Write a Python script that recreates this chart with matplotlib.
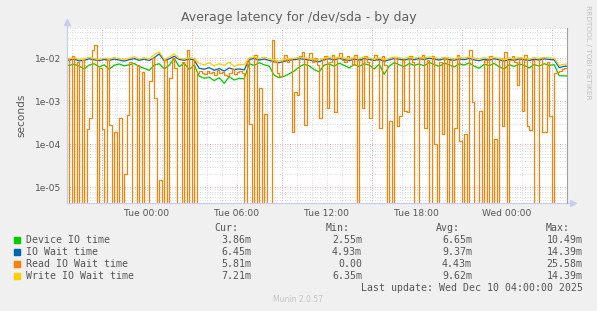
import numpy as np
import matplotlib
matplotlib.use("Agg")
import matplotlib.pyplot as plt
from matplotlib.patches import Rectangle

# time in hours relative to Tue 00:00, graph covers Mon 18:40 -> Wed 04:00
t_start = -16.0 / 3
t_end = 28.0

# Read IO wait time in ms, one value every 10 min (0 = nothing read)
read_ms = [9.5, 0, 11, 0, 8, 0, 9, 0, 0.23, 0.4,
           15, 20, 0, 6, 0.23, 0, 9, 0.28, 0, 0.19,
           0, 0.4, 0, 0.02, 0.47, 8, 0, 0, 7, 0,
           4.7, 0, 0, 3, 10, 1.2, 0, 0.015, 0, 9,
           0, 3.5, 10, 6, 0, 0, 8, 0, 15, 0,
           9, 0, 4.5, 5.0, 4.6, 4.2, 5.0, 4.4, 4.8, 4.0,
           5.2, 4.5, 4.7, 4.1, 3.8, 4.6, 5.5, 4.3, 4.8, 5.0,
           4.4, 0, 9, 0.3, 0, 12, 0, 2, 0, 0.5,
           0, 0, 25.58, 8, 4.5, 3.8, 9, 12, 8, 10,
           0.19, 1.6, 1.4, 11, 14, 0.28, 9, 13, 8, 10,
           7, 0.4, 9, 11, 0.7, 8, 12, 0.55, 10, 13,
           9, 8, 11, 10, 7, 12, 0, 9, 0.7, 11,
           8, 0.4, 10, 12, 9, 0.24, 11, 7, 0, 0.35,
           0, 10, 0.26, 0.45, 9, 0.6, 0.55, 11, 8, 0,
           0, 10, 12, 0.24, 9, 0, 11, 0.1, 0, 8,
           0.17, 10, 0, 9, 0, 0.24, 12, 0.12, 0, 0.17,
           0, 15, 0.95, 0, 0, 0.6, 0, 9, 0, 11,
           0, 0.13, 0, 10, 0.26, 14, 0, 9, 11, 8,
           2.4, 10, 0.6, 12, 0.26, 0.22, 9, 0, 0, 10,
           0.19, 0.19, 8, 0.45, 0, 4.5, 4.7, 5.0, 5.5, 5.81]

# the other three in ms, one value every 20 min
device_ms = [6.8, 7.2, 6.5, 5.6, 6.9, 7.4, 6.2, 7.0, 5.5, 6.8,
             7.3, 6.6, 7.0, 7.5, 6.4, 5.8, 5.2, 6.9, 7.4, 5.6,
             6.8, 9.8, 6.3, 7.6, 5.4, 6.9, 3.8, 3.4, 3.6, 3.0,
             3.5, 2.6, 3.7, 3.1, 3.4, 3.3, 7.4, 6.8, 7.8, 7.0,
             6.5, 4.0, 3.5, 3.8, 4.3, 5.0, 6.2, 7.2, 6.6, 5.4,
             4.8, 6.9, 7.3, 6.5, 7.6, 6.8, 5.9, 7.1, 6.4, 7.4,
             6.9, 5.6, 7.2, 4.2, 6.5, 7.8, 7.0, 6.3, 7.5, 6.8,
             7.3, 6.6, 7.9, 7.1, 6.4, 7.6, 7.0, 6.2, 7.4, 6.9,
             7.7, 6.5, 5.8, 7.2, 6.7, 7.5, 6.3, 5.6, 7.0, 6.4,
             7.3, 6.8, 5.9, 7.1, 6.5, 7.4, 6.8, 7.0, 3.9, 3.86]
iowait_ms = [9.0, 9.4, 8.6, 8.9, 9.6, 9.1, 8.7, 9.3, 8.8, 9.5,
             9.0, 8.5, 9.2, 9.7, 8.9, 9.4, 8.8, 10.2, 12.5, 8.6,
             9.6, 11.0, 9.3, 8.9, 9.5, 9.0, 5.8, 5.5, 6.0, 5.2,
             5.7, 5.0, 5.9, 5.4, 5.6, 5.3, 9.3, 9.8, 9.0, 9.5,
             8.8, 8.2, 7.8, 8.4, 8.9, 9.2, 9.6, 9.4, 9.0, 8.6,
             8.2, 9.3, 9.6, 9.1, 9.8, 9.2, 8.7, 9.5, 9.0, 9.7,
             9.3, 8.8, 9.4, 8.4, 9.1, 9.8, 9.4, 9.0, 9.6, 9.2,
             9.7, 9.3, 9.9, 9.5, 9.0, 9.6, 9.3, 8.9, 9.5, 9.2,
             9.8, 9.1, 8.7, 9.4, 9.0, 9.6, 9.1, 8.5, 9.3, 8.9,
             9.5, 9.2, 8.8, 9.4, 9.0, 9.6, 9.3, 9.1, 6.0, 6.45]
write_ms = [9.8, 10.1, 9.4, 9.6, 10.4, 9.9, 9.2, 10.0, 9.6, 10.3,
            9.7, 9.3, 9.9, 10.8, 9.6, 10.2, 9.5, 12.0, 14.0, 9.4,
            10.5, 12.5, 9.8, 9.6, 10.3, 9.9, 7.5, 7.0, 7.8, 6.6,
            7.4, 6.8, 8.0, 6.4, 7.2, 7.0, 10.1, 10.6, 9.8, 10.4,
            9.6, 9.0, 8.6, 9.2, 9.6, 9.9, 10.4, 10.2, 9.8, 9.4,
            9.1, 10.0, 10.5, 9.9, 10.6, 10.0, 9.5, 10.3, 9.8, 10.5,
            10.1, 9.6, 10.2, 9.3, 9.9, 10.6, 10.2, 9.8, 10.4, 10.0,
            10.5, 10.1, 10.7, 10.3, 9.8, 10.4, 10.1, 9.7, 10.3, 10.0,
            10.6, 9.9, 9.5, 10.2, 9.8, 10.4, 9.9, 9.3, 10.1, 9.7,
            10.3, 10.0, 9.6, 10.2, 9.8, 10.4, 10.1, 9.9, 6.8, 7.21]

x_tick_pos = [0, 6, 12, 18, 24]
x_tick_labels = ["Tue 00:00", "Tue 06:00", "Tue 12:00", "Tue 18:00", "Wed 00:00"]
y_tick_pos = [1e-5, 1e-4, 1e-3, 1e-2]
y_tick_labels = ["1e-05", "1e-04", "1e-03", "1e-02"]

legend_names = ["Device IO time", "IO Wait time", "Read IO Wait time", "Write IO Wait time"]
legend_colors = ["#00CC00", "#0066B3", "#FF8000", "#FFCC00"]
cur_vals = ["3.86m", "6.45m", "5.81m", "7.21m"]
min_vals = ["2.55m", "4.93m", "0.00", "6.35m"]
avg_vals = ["6.65m", "9.37m", "4.43m", "9.62m"]
max_vals = ["10.49m", "14.39m", "25.58m", "14.39m"]

W, H = 597, 311
TXT = "#555555"
MONO = "DejaVu Sans Mono"


def fx(px):
    return px / W


def fy(py):
    return 1 - py / H


def slot_times(n):
    return t_start + np.arange(n) * (t_end - t_start) / n


def step_series(vals):
    # one sample per slot, drawn as steps up to the end of the graph
    v = np.array(vals) * 1e-3
    t = slot_times(len(v))
    v = np.where(v > 0, v, 1e-9)  # zero goes below the log axis
    return np.append(t, t_end), np.append(v, v[-1])


def line_series(vals):
    v = np.array(vals) * 1e-3
    t = slot_times(len(v)) + 0.5 * (t_end - t_start) / len(v)
    t = np.concatenate([[t_start], t, [t_end]])
    v = np.concatenate([[v[0]], v, [v[-1]]])
    return t, v


fig = plt.figure(figsize=(W / 100, H / 100), dpi=100, facecolor="#F0F0F0")
ax = fig.add_axes([fx(66.7), fy(203.3), (566.7 - 66.7) / W, (203.3 - 27.5) / H])
ax.set_facecolor("white")
ax.set_yscale("log")
ax.set_xlim(t_start, t_end)
ax.set_ylim(4.27e-6, 0.0512)

# grid like rrdtool: gray dotted minor, red dotted major
for h in np.arange(-5, 28):
    major = (h - 3) % 6 == 0
    ax.axvline(h, color="#e09090" if major else "#cfcfcf", lw=0.6,
               ls=(0, (1, 2)), zorder=0)
for d in range(-6, -1):
    ax.axhline(10.0 ** d, color="#e09090", lw=0.6, ls=(0, (1, 2)), zorder=0)
    for m in range(2, 10):
        ax.axhline(m * 10.0 ** d, color="#cfcfcf", lw=0.6, ls=(0, (1, 2)), zorder=0)

x, y = line_series(device_ms)
ax.plot(x, y, color=legend_colors[0], lw=0.9)
x, y = line_series(iowait_ms)
ax.plot(x, y, color=legend_colors[1], lw=0.9)
x, y = step_series(read_ms)
ax.plot(x, y, drawstyle="steps-post", color=legend_colors[2], lw=0.85)
x, y = line_series(write_ms)
ax.plot(x, y, color=legend_colors[3], lw=0.9)

ax.set_xticks(x_tick_pos, x_tick_labels)
ax.set_yticks(y_tick_pos, y_tick_labels)
ax.minorticks_off()
ax.tick_params(length=0, labelsize=6.6, labelcolor=TXT, pad=4)

for s in ["top", "left", "bottom"]:
    ax.spines[s].set_visible(False)
ax.spines["right"].set_color("#a0a0a0")
ax.spines["right"].set_linewidth(0.8)
# axis lines with little arrows
ax.plot([0, 0], [0, 1.03], transform=ax.transAxes, color="#c8ccf0", lw=0.9, clip_on=False)
ax.plot([0, 1.012], [0, 0], transform=ax.transAxes, color="#c8ccf0", lw=0.9, clip_on=False)
ax.plot([0], [1.03], transform=ax.transAxes, marker="^", ms=4, color="#c8ccf0", clip_on=False)
ax.plot([1.012], [0], transform=ax.transAxes, marker=">", ms=4, color="#c8ccf0", clip_on=False)

ax.set_ylabel("seconds", fontsize=7.6, color=TXT, labelpad=6)

fig.text(0.5, fy(18), "Average latency for /dev/sda - by day", ha="center",
         va="center", fontsize=9.0, color="#606060")
fig.text(fx(588), fy(5), "RRDTOOL / TOBI OETIKER", rotation=270, ha="center",
         va="top", fontsize=5.3, color="#c0c0c0")

# legend block
cols_head = [238, 349.6, 460, 570]
cols_val = [251, 362, 472, 582.6]
for head, cx in zip(["Cur:", "Min:", "Avg:", "Max:"], cols_head):
    fig.text(fx(cx), fy(228), head, ha="right", va="center", family=MONO,
             fontsize=7.1, color=TXT)
for i, name in enumerate(legend_names):
    ry = 240 + 12 * i
    fig.add_artist(Rectangle((fx(14), fy(ry + 3)), 6 / W, 6 / H,
                             transform=fig.transFigure, color=legend_colors[i]))
    fig.text(fx(26), fy(ry), name, ha="left", va="center", family=MONO,
             fontsize=7.1, color=TXT)
    for vals, cx in zip([cur_vals, min_vals, avg_vals, max_vals], cols_val):
        fig.text(fx(cx), fy(ry), vals[i], ha="right", va="center", family=MONO,
                 fontsize=7.1, color=TXT)
fig.text(fx(582.6), fy(288), "Last update: Wed Dec 10 04:00:00 2025", ha="right",
         va="center", family=MONO, fontsize=7.1, color=TXT)
fig.text(fx(298), fy(300), "Munin 2.0.57", ha="center", va="center",
         fontsize=5.5, color="#c4c4c4")

fig.savefig("out.png", dpi=100, facecolor=fig.get_facecolor())
